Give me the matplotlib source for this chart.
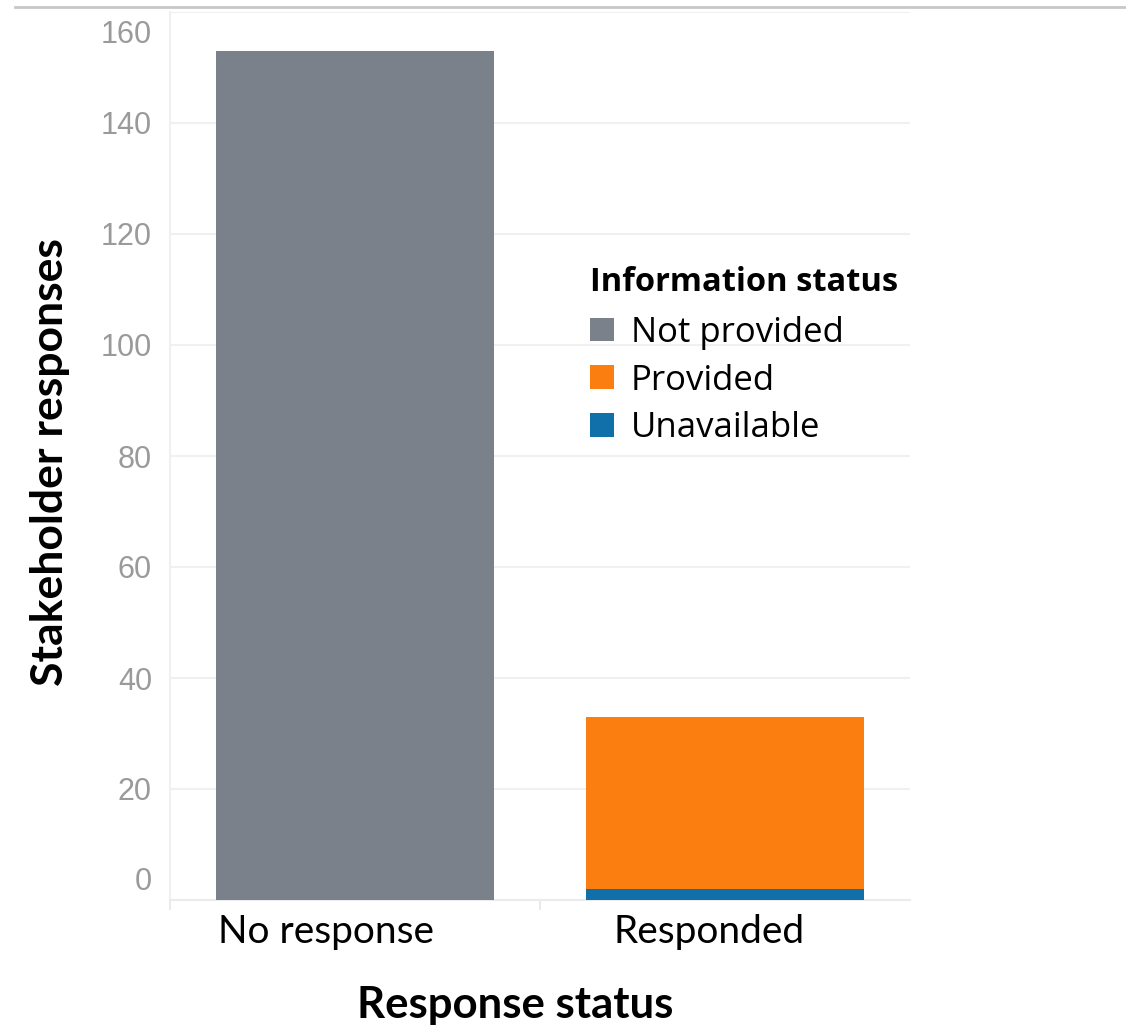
import matplotlib
matplotlib.use('Agg')
import matplotlib.pyplot as plt
import matplotlib.transforms as mtransforms
from matplotlib.lines import Line2D

categories = ['No response', 'Responded']
not_provided = [153, 0]
provided = [0, 31]
unavailable = [0, 2]
series_names = ['Not provided', 'Provided', 'Unavailable']
y_ticks = [0, 20, 40, 60, 80, 100, 120, 140, 160]

colors = {'Not provided': '#7b818b', 'Provided': '#fb7e10', 'Unavailable': '#1170aa'}

W, H, DPI = 1126, 1029, 100
fig = plt.figure(figsize=(W / DPI, H / DPI), dpi=DPI)
ax = fig.add_axes([170 / W, 1 - 900 / H, 740 / W, 888 / H])

x = list(range(len(categories)))
b1 = ax.bar(x, unavailable, width=0.75, color=colors['Unavailable'], zorder=3)
bottom2 = unavailable
b2 = ax.bar(x, provided, width=0.75, bottom=bottom2, color=colors['Provided'], zorder=3)
bottom3 = [u + p for u, p in zip(unavailable, provided)]
b3 = ax.bar(x, not_provided, width=0.75, bottom=bottom3, color=colors['Not provided'], zorder=3)

ax.set_xlim(-0.5, 1.5)
ax.set_ylim(0, 160)
ax.set_yticks(y_ticks)
ax.set_yticklabels([str(t) for t in y_ticks], fontsize=22, color='#9a9a9a',
                   family=['Liberation Sans', 'DejaVu Sans'])
ax.tick_params(axis='y', length=0, pad=13)
ax.grid(axis='y', color='#f0f0f0', linewidth=1.5, zorder=0)

# pull the end labels inside the axis range
ylabels = ax.get_yticklabels()
ylabels[0].set_transform(ylabels[0].get_transform() +
                         mtransforms.ScaledTranslation(0, 22 / DPI, fig.dpi_scale_trans))
ylabels[-1].set_transform(ylabels[-1].get_transform() +
                          mtransforms.ScaledTranslation(0, -20 / DPI, fig.dpi_scale_trans))

# minor ticks mark the category boundaries
ax.set_xticks([-0.5, 0.5], minor=True)
ax.tick_params(axis='x', which='minor', length=7, color='#e6e6e6', width=1.2)
ax.set_xticks(x)
ax.set_xticklabels(categories, fontsize=28, family=['Lato', 'DejaVu Sans'])
ax.tick_params(axis='x', which='major', length=0, pad=10)
xoffs = [-29, -16]
for lab, dx in zip(ax.get_xticklabels(), xoffs):
    lab.set_transform(lab.get_transform() +
                      mtransforms.ScaledTranslation(dx / DPI, 0, fig.dpi_scale_trans))

for side in ['top', 'right']:
    ax.spines[side].set_visible(False)
ax.spines['left'].set_color('#f0f0f0')
ax.spines['left'].set_linewidth(1.5)
ax.spines['bottom'].set_color('#ebebeb')
ax.spines['bottom'].set_linewidth(1.5)

fig.text(515 / W, 1 - 1005 / H, 'Response status', ha='center', va='center',
         fontsize=31.5, fontweight='bold', family=['Lato', 'DejaVu Sans'])
fig.text(50 / W, 1 - 462 / H, 'Stakeholder responses', ha='center', va='center',
         rotation=90, fontsize=32, fontweight='bold', family=['Lato', 'DejaVu Sans'])

# thin rule along the top of the image
fig.add_artist(Line2D([15 / W, 1.0], [1 - 7 / H, 1 - 7 / H], color='#c8c8c8',
                      linewidth=2, transform=fig.transFigure))

leg = ax.legend([b3, b2, b1], series_names, title='Information status',
                loc='upper left', bbox_to_anchor=((590 - 170) / 740, 1 - (266 - 12) / 888),
                frameon=False, prop={'family': ['Open Sans', 'DejaVu Sans'], 'size': 25},
                title_fontproperties={'family': ['Open Sans', 'DejaVu Sans'], 'size': 23.5,
                                      'weight': 'bold'},
                handlelength=0.68, handleheight=0.68, handletextpad=0.5,
                labelspacing=0.4, borderaxespad=0, borderpad=0, alignment='left')
leg._legend_box.sep = 12

fig.savefig('out.png', dpi=DPI)
